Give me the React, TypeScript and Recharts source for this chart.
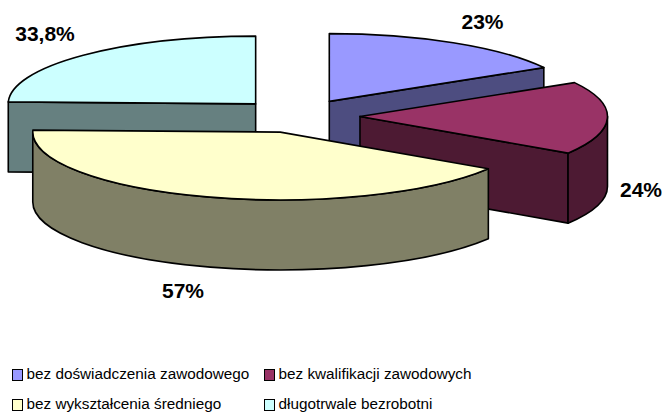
import React from "react";
import { PieChart, Pie, Legend } from "recharts";

const CATEGORIES = [
  "bez doświadczenia zawodowego",
  "bez kwalifikacji zawodowych",
  "bez wykształcenia średniego",
  "długotrwale bezrobotni",
];
const VALUES = [23, 24, 57, 33.8];
const TOP_COLORS = ["#9999ff", "#993366", "#ffffcc", "#ccffff"];
const WALL_COLORS = ["#4d4d80", "#4d1a33", "#808066", "#668080"];

// painter's order: back slices first, the big yellow one last
const DRAW_ORDER = [3, 0, 1, 2];

const LABEL_POS: Record<number, [number, number]> = {
  0: [482.5, 29],
  1: [641, 197],
  2: [183, 298],
  3: [45, 41],
};
const LEGEND_POS = [
  { x: 12, y: 368 },
  { x: 264, y: 368 },
  { x: 12, y: 398 },
  { x: 264, y: 398 },
];

const WIDTH = 665;
const HEIGHT = 413;
const FONT = '"Liberation Sans", Arial, sans-serif';
const SQUASH = 0.274; // ellipse ry / rx
const DEPTH = 70;
const EXPLODE = 61.5;

const total = VALUES.reduce((a, b) => a + b, 0);
const firstStart = 90 + (360 * VALUES[DRAW_ORDER[0]]) / total;

const pieData = DRAW_ORDER.map((i) => ({
  name: CATEGORIES[i],
  value: VALUES[i],
  idx: i,
}));

const rad = (d: number) => (d * Math.PI) / 180;

function Slice3D(props: any) {
  const { cx, cy, outerRadius, startAngle, endAngle, payload } = props;
  const idx = payload?.idx ?? props.idx;
  const sweep = Math.abs(endAngle - startAngle);
  // angles clockwise from the top of the pie
  const t0 = (((90 - startAngle) % 360) + 360) % 360;
  const t1 = t0 + sweep;
  const mid = (t0 + t1) / 2;
  const rx = outerRadius;
  const ry = outerRadius * SQUASH;
  const ax = cx + EXPLODE * Math.sin(rad(mid));
  const ay = cy - EXPLODE * SQUASH * Math.cos(rad(mid));
  const px = (t: number) => ax + rx * Math.sin(rad(t));
  const py = (t: number) => ay - ry * Math.cos(rad(t));

  const edge = { stroke: "#000", strokeWidth: 1.6, strokeLinejoin: "round" as const };
  const wall = WALL_COLORS[idx];

  const radialWall = (t: number) =>
    `M${ax},${ay} L${px(t)},${py(t)} L${px(t)},${py(t) + DEPTH} L${ax},${ay + DEPTH} Z`;

  const startVisible = Math.sin(rad(t0)) < -0.001;
  const endVisible = Math.sin(rad(t1)) > 0.001;
  const a0 = Math.max(t0, 90);
  const a1 = Math.min(t1, 270);

  return (
    <g>
      {startVisible && <path d={radialWall(t0)} fill={wall} {...edge} />}
      {endVisible && <path d={radialWall(t1)} fill={wall} {...edge} />}
      {a1 > a0 && (
        <path
          d={`M${px(a0)},${py(a0)} A${rx},${ry} 0 0 1 ${px(a1)},${py(a1)} L${px(a1)},${py(a1) + DEPTH} A${rx},${ry} 0 0 0 ${px(a0)},${py(a0) + DEPTH} Z`}
          fill={wall}
          {...edge}
        />
      )}
      <path
        d={`M${ax},${ay} L${px(t0)},${py(t0)} A${rx},${ry} 0 ${sweep > 180 ? 1 : 0} 1 ${px(t1)},${py(t1)} Z`}
        fill={TOP_COLORS[idx]}
        {...edge}
      />
    </g>
  );
}

function renderLabel(props: any) {
  const idx = props.payload?.idx ?? props.idx;
  const [x, y] = LABEL_POS[idx];
  return (
    <text
      x={x}
      y={y}
      textAnchor="middle"
      fontFamily={FONT}
      fontWeight="bold"
      fontSize={21}
      fill="#000"
    >
      {String(VALUES[idx]).replace(".", ",") + "%"}
    </text>
  );
}

function LegendBox() {
  return (
    <div style={{ position: "relative", width: WIDTH, height: HEIGHT }}>
      {CATEGORIES.map((name, i) => (
        <div key={name} style={{ position: "absolute", left: LEGEND_POS[i].x, top: LEGEND_POS[i].y }}>
          <span
            style={{
              position: "absolute",
              left: 0,
              top: 1,
              width: 9,
              height: 10,
              background: TOP_COLORS[i],
              border: "1.5px solid #000",
            }}
          />
          <span
            style={{
              position: "absolute",
              left: 14.5,
              top: -3,
              whiteSpace: "nowrap",
              fontFamily: FONT,
              fontSize: 15.3,
              color: "#000",
            }}
          >
            {name}
          </span>
        </div>
      ))}
    </div>
  );
}

export default function App() {
  return (
    <div style={{ position: "absolute", left: 0, top: 0, width: WIDTH, height: HEIGHT, background: "#fff" }}>
      <PieChart width={WIDTH} height={HEIGHT} margin={{ top: 0, right: 0, bottom: 0, left: 0 }}>
        <Pie
          data={pieData}
          dataKey="value"
          nameKey="name"
          cx={298.5}
          cy={116}
          innerRadius={0}
          outerRadius={247.5}
          startAngle={firstStart}
          endAngle={firstStart - 360}
          shape={Slice3D}
          label={renderLabel}
          labelLine={false}
          stroke="none"
          isAnimationActive={false}
        />
        <Legend
          content={() => <LegendBox />}
          wrapperStyle={{ left: 0, top: 0, width: WIDTH, height: HEIGHT, pointerEvents: "none" }}
        />
      </PieChart>
    </div>
  );
}
